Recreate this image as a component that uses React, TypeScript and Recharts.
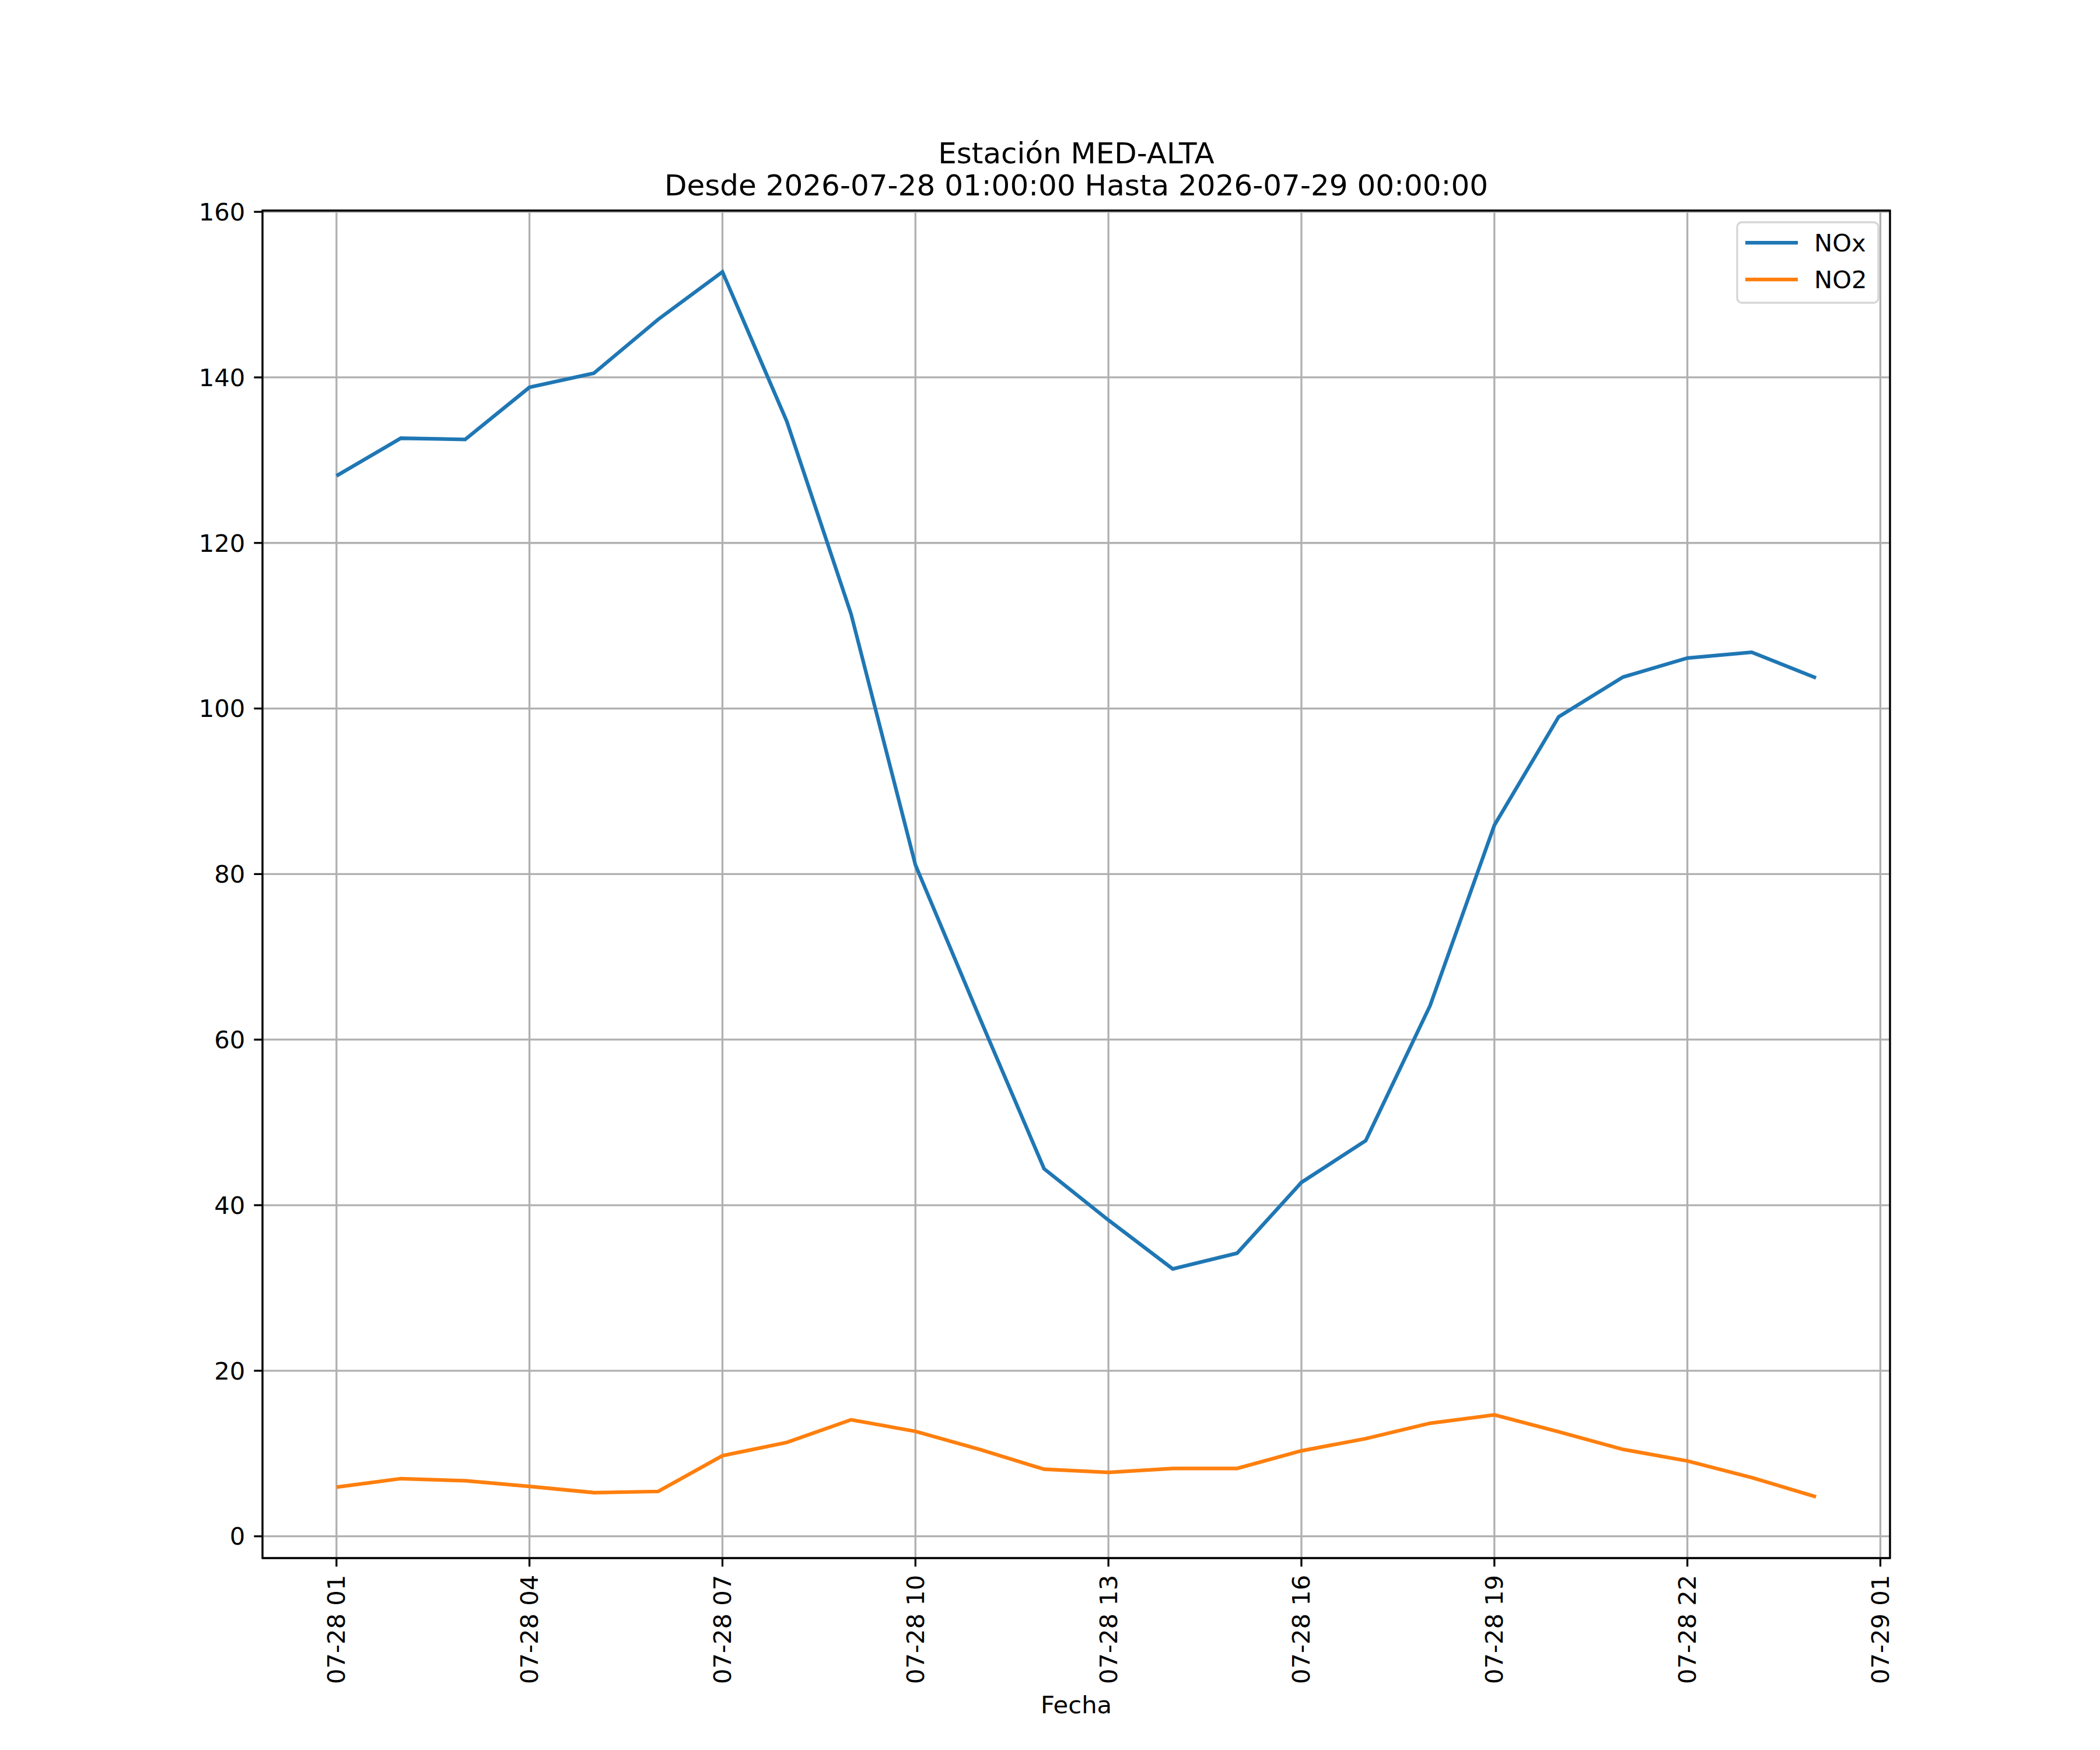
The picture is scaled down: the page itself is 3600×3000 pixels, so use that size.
import React from 'react';
import { LineChart, Line, XAxis, YAxis, CartesianGrid, Legend, ReferenceArea } from 'recharts';

// Hours since 2026-07-28 01:00
const hours = [0, 1, 2, 3, 4, 5, 6, 7, 8, 9, 10, 11, 12, 13, 14, 15, 16, 17, 18, 19, 20, 21, 22, 23];
const noxValues = [128.1, 132.65, 132.5, 138.8, 140.5, 147.0, 152.75, 134.7, 111.4, 81.1, 62.6, 44.4, 38.2, 32.3, 34.2, 42.75, 47.8, 64.1, 85.9, 99.0, 103.8, 106.1, 106.8, 103.7];
const no2Values = [5.94, 6.97, 6.71, 6.03, 5.28, 5.42, 9.74, 11.34, 14.08, 12.68, 10.5, 8.1, 7.72, 8.2, 8.2, 10.33, 11.8, 13.66, 14.67, 12.63, 10.5, 9.1, 7.1, 4.77];

const xTickValues = [0, 3, 6, 9, 12, 15, 18, 21, 24];
const xTickLabels = ['07-28 01', '07-28 04', '07-28 07', '07-28 10', '07-28 13', '07-28 16', '07-28 19', '07-28 22', '07-29 01'];
const yTickValues = [0, 20, 40, 60, 80, 100, 120, 140, 160];

const titleLine1 = 'Estación MED-ALTA';
const titleLine2 = 'Desde 2026-07-28 01:00:00 Hasta 2026-07-29 00:00:00';
const xLabel = 'Fecha';
const seriesNames = ['NOx', 'NO2'];
const colors = ['#1f77b4', '#ff7f0e'];

const data = hours.map((h, i) => ({ h, nox: noxValues[i], no2: no2Values[i] }));

const X_DOMAIN = [-1.15, 24.15];
const Y_DOMAIN = [-2.63, 160.15];

const FONT = 'DejaVu Sans';
const TICK_FS = 41.7;
const LW = 6.25;
const SPINE = 3.3;

const XTick = (props: any) => {
  const { x, y, payload } = props;
  const idx = xTickValues.indexOf(payload.value);
  const label = idx >= 0 ? xTickLabels[idx] : String(payload.value);
  return (
    <g transform={`translate(${x},${y})`}>
      <text
        transform="rotate(-90)"
        textAnchor="end"
        dominantBaseline="central"
        fontFamily={FONT}
        fontSize={TICK_FS}
        fill="#000"
      >
        {label}
      </text>
    </g>
  );
};

const LegendBox = () => (
  <svg width={246} height={142} style={{ display: 'block' }}>
    <rect x={2} y={2} width={242} height={138} rx={8} ry={8} fill="#fff" fillOpacity={0.8} stroke="#d6d6d6" strokeWidth={3.3} />
    {seriesNames.map((name, i) => (
      <g key={name}>
        <line x1={16} x2={106} y1={37 + i * 63} y2={37 + i * 63} stroke={colors[i]} strokeWidth={LW} />
        <text x={134} y={52 + i * 63} fontFamily={FONT} fontSize={TICK_FS} fill="#000">
          {name}
        </text>
      </g>
    ))}
  </svg>
);

export default function App() {
  return (
    <div style={{ position: 'absolute', left: 0, top: 0, width: 3600, height: 3000, background: '#fff' }}>
      <LineChart
        width={3600}
        height={3000}
        data={data}
        margin={{ top: 361, right: 360, bottom: 29, left: 350 }}
      >
        <CartesianGrid stroke="#b0b0b0" strokeWidth={SPINE} />
        <XAxis
          dataKey="h"
          type="number"
          domain={X_DOMAIN}
          ticks={xTickValues}
          allowDataOverflow
          height={300}
          axisLine={false}
          tickLine={{ stroke: '#000', strokeWidth: SPINE }}
          tickSize={14.6}
          tickMargin={14}
          tick={<XTick />}
          interval={0}
        />
        <YAxis
          type="number"
          domain={Y_DOMAIN}
          ticks={yTickValues}
          allowDataOverflow
          width={100}
          axisLine={false}
          tickLine={{ stroke: '#000', strokeWidth: SPINE }}
          tickSize={14.6}
          tickMargin={15}
          tick={{ fontFamily: FONT, fontSize: TICK_FS, fill: '#000' }}
          interval={0}
        />
        <Line type="linear" dataKey="nox" name={seriesNames[0]} stroke={colors[0]} strokeWidth={LW} dot={false} isAnimationActive={false} />
        <Line type="linear" dataKey="no2" name={seriesNames[1]} stroke={colors[1]} strokeWidth={LW} dot={false} isAnimationActive={false} />
        <ReferenceArea
          x1={X_DOMAIN[0]}
          x2={X_DOMAIN[1]}
          y1={Y_DOMAIN[0]}
          y2={Y_DOMAIN[1]}
          fill="none"
          fillOpacity={0}
          stroke="#000"
          strokeWidth={SPINE}
          ifOverflow="visible"
        />
        <Legend
          layout="horizontal"
          verticalAlign="middle"
          align="center"
          content={<LegendBox />}
          wrapperStyle={{ position: 'absolute', left: 2976, top: 379, width: 246, height: 142 }}
        />
      </LineChart>
      <svg
        width={3600}
        height={3000}
        style={{ position: 'absolute', left: 0, top: 0, pointerEvents: 'none' }}
      >
        <text x={1845} y={280} textAnchor="middle" fontFamily={FONT} fontSize={50} fill="#000">
          {titleLine1}
        </text>
        <text x={1845} y={335} textAnchor="middle" fontFamily={FONT} fontSize={50} fill="#000">
          {titleLine2}
        </text>
        <text x={1845} y={2937} textAnchor="middle" fontFamily={FONT} fontSize={TICK_FS} fill="#000">
          {xLabel}
        </text>
      </svg>
    </div>
  );
}
